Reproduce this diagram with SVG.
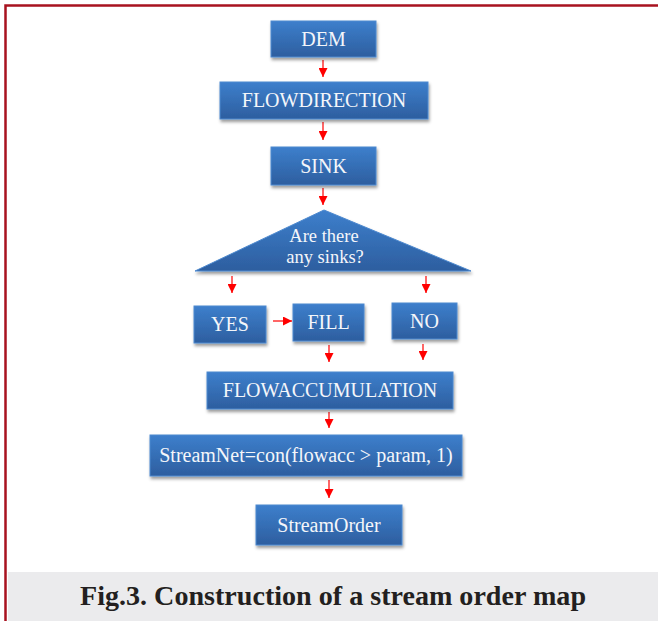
<svg xmlns="http://www.w3.org/2000/svg" width="658" height="621" viewBox="0 0 658 621">
<defs>
<linearGradient id="g" x1="0" y1="0" x2="0" y2="1">
<stop offset="0" stop-color="#3d7fcc"/>
<stop offset="1" stop-color="#2d5e9f"/>
</linearGradient>
<filter id="sh" x="-10%" y="-20%" width="120%" height="150%">
<feDropShadow dx="1" dy="2.5" stdDeviation="1.6" flood-color="#000" flood-opacity="0.4"/>
</filter>
<marker id="ah" viewBox="0 0 10 10" refX="10" refY="5" markerWidth="9" markerHeight="9" markerUnits="userSpaceOnUse" orient="auto">
<path d="M0,0 L10,5 L0,10 Z" fill="#ff0000"/>
</marker>
</defs>
<style>
.box{fill:url(#g);stroke:#4d89cf;stroke-width:1;filter:url(#sh)}
.t{font-family:"Liberation Serif","Times New Roman",serif;font-size:20px;fill:#f4f6fa;text-anchor:middle}
.d{font-size:18.5px}
.c{stroke:#ff0000;stroke-width:1.2;fill:none;marker-end:url(#ah)}
</style>
<rect x="0" y="0" width="658" height="621" fill="#ffffff"/>
<rect x="8" y="572" width="650" height="49" fill="#ebebed"/>
<path d="M5.5,621 L5.5,5.5 L658,5.5" fill="none" stroke="#a8121f" stroke-width="2.5"/>
<g id="connectors">
<line class="c" x1="323" y1="60" x2="323" y2="77"/>
<line class="c" x1="323" y1="122" x2="323" y2="140"/>
<line class="c" x1="323" y1="188" x2="323" y2="205"/>
<line class="c" x1="232" y1="276" x2="232" y2="293"/>
<line class="c" x1="426" y1="276" x2="426" y2="293"/>
<line class="c" x1="273" y1="321" x2="292" y2="321"/>
<line class="c" x1="329" y1="345" x2="329" y2="362"/>
<line class="c" x1="423" y1="344" x2="423" y2="360"/>
<line class="c" x1="329" y1="412" x2="329" y2="428"/>
<line class="c" x1="329" y1="480" x2="329" y2="498"/>
</g>
<g id="dem"><rect class="box" x="271" y="21" width="105" height="36"/><text class="t" x="323.5" y="46">DEM</text></g>
<g id="flowdirection"><rect class="box" x="220" y="82" width="208" height="37"/><text class="t" x="324" y="107">FLOWDIRECTION</text></g>
<g id="sink"><rect class="box" x="271" y="147" width="105" height="38"/><text class="t" x="323.5" y="173">SINK</text></g>
<g id="decision"><polygon class="box" points="324,210 471,271 195,271"/><text class="t d" x="324" y="242">Are there</text><text class="t d" x="325" y="263">any sinks?</text></g>
<g id="yes"><rect class="box" x="194" y="306" width="72" height="37"/><text class="t" x="230" y="331">YES</text></g>
<g id="fill"><rect class="box" x="293" y="304" width="71" height="37"/><text class="t" x="328.5" y="329">FILL</text></g>
<g id="no"><rect class="box" x="392" y="303" width="65" height="36"/><text class="t" x="424.5" y="328">NO</text></g>
<g id="flowaccumulation"><rect class="box" x="207" y="372" width="246" height="37"/><text class="t" x="330" y="397">FLOWACCUMULATION</text></g>
<g id="streamnet"><rect class="box" x="150" y="435" width="312" height="41"/><text class="t" x="306" y="462">StreamNet=con(flowacc &gt; param, 1)</text></g>
<g id="streamorder"><rect class="box" x="256" y="505" width="146" height="40"/><text class="t" x="329" y="532">StreamOrder</text></g>
<text x="333" y="605" font-family="'Liberation Serif','Times New Roman',serif" font-weight="bold" font-size="27" fill="#231f20" text-anchor="middle" textLength="506" lengthAdjust="spacingAndGlyphs">Fig.3. Construction of a stream order map</text>
</svg>
